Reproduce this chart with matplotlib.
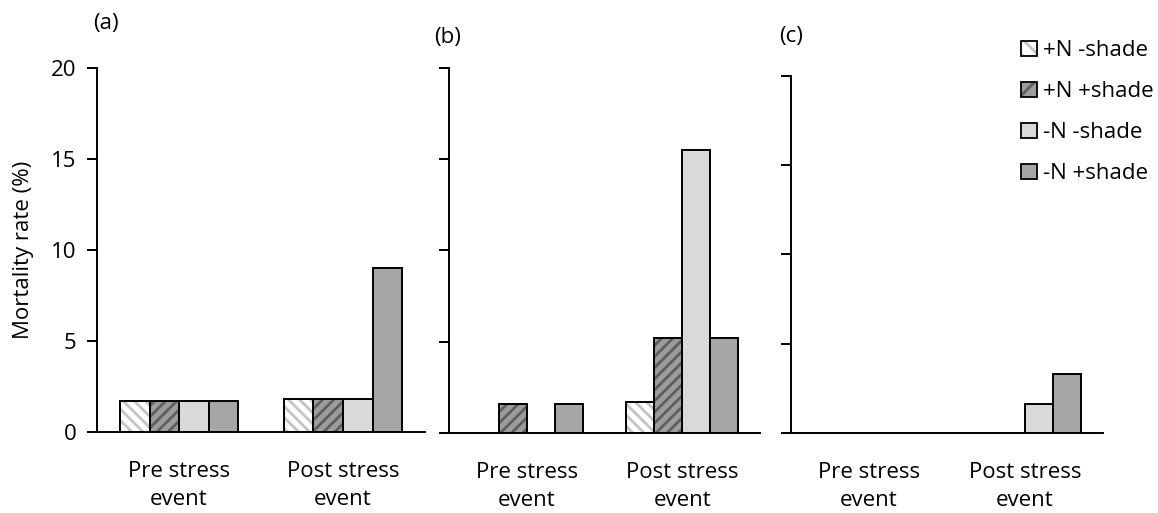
import numpy as np
import matplotlib.pyplot as plt
from matplotlib.patches import Patch

plt.rcParams['font.family'] = ['Open Sans', 'DejaVu Sans']
plt.rcParams['hatch.linewidth'] = 2.0

# data
categories = ['Pre stress\nevent', 'Post stress\nevent']
treatments = ['+N -shade', '+N +shade', '-N -shade', '-N +shade']
panel_a = [[1.7, 1.7, 1.7, 1.7], [1.8, 1.8, 1.8, 9.0]]
panel_b = [[0.0, 1.6, 0.0, 1.6], [1.7, 5.2, 15.5, 5.2]]
panel_c = [[0.0, 0.0, 0.0, 0.0], [0.0, 0.0, 1.6, 3.3]]
panel_labels = ['(a)', '(b)', '(c)']

faces = ['#ffffff', '#9c9c9c', '#d9d9d9', '#a6a6a6']
hatch_cols = ['#c4c4c4', '#5e5e5e', None, None]
hatches = ['\\\\\\', '///', None, None]

fs = 16
fig = plt.figure(figsize=(11.58, 5.13), dpi=100)
boxes = [
    [0.0838, 0.158, 0.2832, 0.7094],
    [0.3877, 0.156, 0.2686, 0.7114],
    [0.6830, 0.156, 0.2695, 0.6962],
]
label_pos = [(0.080, 0.955), (0.375, 0.926), (0.673, 0.929)]

width = 0.18
x = np.arange(len(categories))

for i, (data, box) in enumerate(zip([panel_a, panel_b, panel_c], boxes)):
    ax = fig.add_axes(box)
    vals = np.array(data)
    for j in range(4):
        pos = x + (j - 1.5) * width
        h = vals[:, j]
        mask = h > 0
        if not mask.any():
            continue
        if hatches[j]:
            ax.bar(pos[mask], h[mask], width, color=faces[j], edgecolor=hatch_cols[j],
                   hatch=hatches[j], linewidth=0, zorder=2)
            ax.bar(pos[mask], h[mask], width, fill=False, edgecolor='black',
                   linewidth=1.4, zorder=3)
        else:
            ax.bar(pos[mask], h[mask], width, color=faces[j], edgecolor='black',
                   linewidth=1.4, zorder=2)
    ax.set_xlim(-0.5, 1.5)
    ax.set_ylim(0, 20)
    ax.set_yticks([0, 5, 10, 15, 20])
    ax.set_xticks(x)
    ax.set_xticklabels(categories, fontsize=fs, linespacing=1.45)
    ax.tick_params(axis='x', length=0, pad=21)
    ax.tick_params(axis='y', direction='out', length=7, width=1.4, labelsize=fs, pad=8)
    for s in ['top', 'right']:
        ax.spines[s].set_visible(False)
    for s in ['left', 'bottom']:
        ax.spines[s].set_linewidth(1.4)
    if i == 0:
        ax.set_ylabel('Mortality rate (%)', fontsize=fs, labelpad=12)
    else:
        ax.set_yticklabels([])
    fig.text(label_pos[i][0], label_pos[i][1], panel_labels[i], fontsize=fs, va='center')

handles = []
for j in range(4):
    if hatches[j]:
        handles.append((Patch(facecolor=faces[j], edgecolor=hatch_cols[j], hatch=hatches[j][:2], linewidth=0),
                        Patch(fill=False, edgecolor='black', linewidth=1.3)))
    else:
        handles.append(Patch(facecolor=faces[j], edgecolor='black', linewidth=1.3))
fig.legend(handles, treatments, loc='upper left', bbox_to_anchor=(0.874, 0.939),
           frameon=False, fontsize=fs, handlelength=0.7, handleheight=0.7,
           handletextpad=0.3, labelspacing=0.9, borderaxespad=0)

fig.savefig('out.png', dpi=100)
